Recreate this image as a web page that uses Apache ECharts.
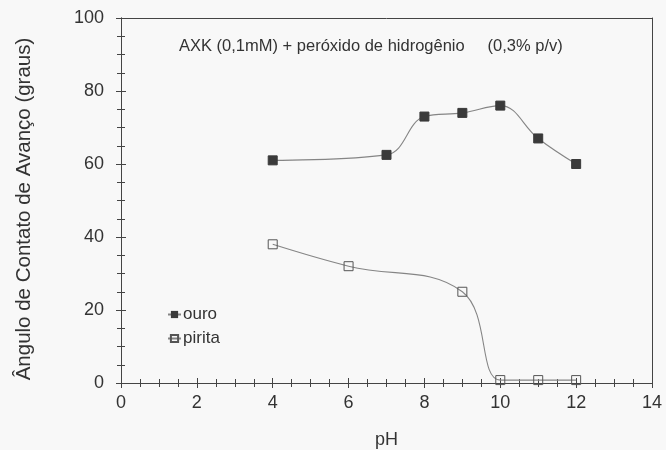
<!DOCTYPE html>
<html>
<head>
<meta charset="utf-8">
<script src="https://cdn.jsdelivr.net/npm/echarts@6/dist/echarts.min.js"></script>
<style>
html,body{margin:0;padding:0;background:#f8f8f8;}
#c{width:666px;height:450px;}
</style>
</head>
<body>
<div id="c"></div>
<script>
const ouroPH = [4, 7, 8, 9, 10, 11, 12];
const ouroAngle = [61, 62.5, 73, 74, 76, 67, 60];
const piritaPH = [4, 6, 9, 10, 11, 12];
const piritaAngle = [38, 32, 25, 0.8, 0.8, 0.8];
const titleText = 'AXK (0,1mM) + peróxido de hidrogênio     (0,3% p/v)';
const xName = 'pH';
const yName = 'Ângulo de Contato de Avanço (graus)';

const ouroData = ouroPH.map((x, i) => [x, ouroAngle[i]]);
const piritaData = piritaPH.map((x, i) => [x, piritaAngle[i]]);

const chart = echarts.init(document.getElementById('c'));
const axisColor = '#444';
const textColor = '#333';
const font = 'Liberation Sans, Arial, sans-serif';

const baseX = {
  type: 'value', min: 0, max: 14, interval: 2,
  splitLine: {show: false},
  axisLine: {show: true, onZero: false, lineStyle: {color: axisColor, width: 1}},
  minorTick: {show: true, splitNumber: 4, length: 4, lineStyle: {color: axisColor}},
  axisTick: {show: true, length: 5, lineStyle: {color: axisColor}},
};
const baseY = {
  type: 'value', min: 0, max: 100, interval: 20,
  splitLine: {show: false},
  axisLine: {show: true, onZero: false, lineStyle: {color: axisColor, width: 1}},
  minorTick: {show: true, splitNumber: 4, length: 4, lineStyle: {color: axisColor}},
  axisTick: {show: true, length: 5, lineStyle: {color: axisColor}},
};

chart.setOption({
  backgroundColor: '#f8f8f8',
  animation: false,
  title: {
    text: titleText, left: 179, top: 38, padding: 0,
    textStyle: {fontFamily: font, fontSize: 16.5, fontWeight: 'normal', color: textColor}
  },
  graphic: [{
    type: 'text', x: 24, y: 209, rotation: Math.PI / 2,
    style: {
      text: yName, fontFamily: font, fontSize: 20.5, fill: textColor,
      align: 'center', verticalAlign: 'middle'
    }
  }],
  grid: {left: 121, right: 14, top: 18, bottom: 67, containLabel: false, outerBoundsMode: 'none'},
  legend: {
    orient: 'vertical', left: 167, top: 306, itemGap: 7, padding: 0,
    itemWidth: 13, itemHeight: 9,
    textStyle: {fontFamily: font, fontSize: 17, color: textColor, padding: [0,0,0,-3]},
    data: ['ouro', 'pirita']
  },
  xAxis: [
    Object.assign({}, baseX, {
      position: 'bottom',
      name: xName, nameLocation: 'middle', nameGap: 48,
      nameTextStyle: {fontFamily: font, fontSize: 18, color: textColor},
      axisLabel: {fontFamily: font, fontSize: 18, color: textColor, margin: 11},
      axisTick: {show: true, length: 5, inside: false, lineStyle: {color: axisColor}},
    }),
    Object.assign({}, baseX, {
      position: 'bottom',
      axisLabel: {show: false},
      axisTick: {show: true, length: 5, inside: true, lineStyle: {color: axisColor}},
    }),
    Object.assign({}, baseX, {
      position: 'top',
      axisLabel: {show: false}, axisTick: {show: false}, minorTick: {show: false},
    })
  ],
  yAxis: [
    Object.assign({}, baseY, {
      position: 'left',
      axisLabel: {fontFamily: font, fontSize: 18, color: textColor, margin: 17},
      axisTick: {show: true, length: 5, inside: false, lineStyle: {color: axisColor}},
    }),
    Object.assign({}, baseY, {
      position: 'left',
      axisLabel: {show: false},
      axisTick: {show: true, length: 5, inside: true, lineStyle: {color: axisColor}},
    }),
    Object.assign({}, baseY, {
      position: 'right',
      axisLabel: {show: false}, axisTick: {show: false}, minorTick: {show: false},
    })
  ],
  series: [
    {
      name: 'ouro', type: 'line', data: ouroData, smooth: 0.4,
      symbol: 'rect', symbolSize: 9,
      lineStyle: {color: '#858585', width: 1.1},
      itemStyle: {color: '#3a3a3a', borderColor: '#3a3a3a'},
      z: 3
    },
    {
      name: 'pirita', type: 'line', data: piritaData, smooth: 0.4,
      symbol: 'rect', symbolSize: 9,
      lineStyle: {color: '#858585', width: 1.1},
      itemStyle: {color: 'rgba(0,0,0,0)', borderColor: '#555', borderWidth: 1},
      z: 3
    }
  ]
});
</script>
</body>
</html>
